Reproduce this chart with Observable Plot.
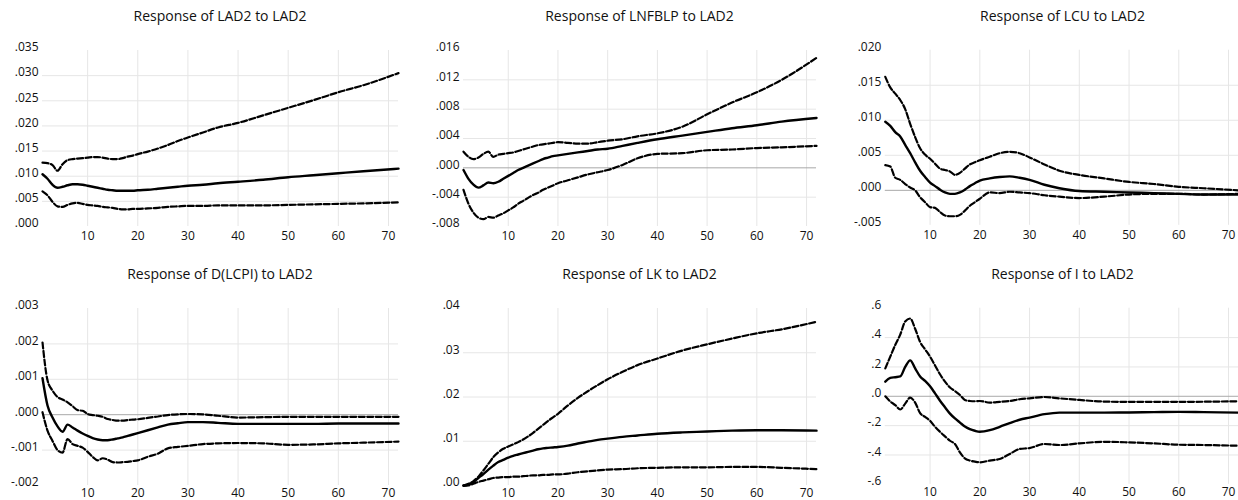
<!DOCTYPE html>
<html><head><meta charset="utf-8">
<script src="https://cdn.jsdelivr.net/npm/d3@7"></script>
<script src="https://cdn.jsdelivr.net/npm/@observablehq/plot@0.6"></script>
<style>
html,body{margin:0;padding:0;background:#fff;}
body{width:1238px;height:500px;overflow:hidden;position:relative;font-family:"Open Sans",sans-serif;}
.panel{position:absolute;}
.title{position:absolute;font-size:14px;color:#111;text-align:center;white-space:nowrap;line-height:20px;font-family:"Open Sans",sans-serif;}
</style></head><body>
<script>
// shared horizon grid (periods)
const periods = [1,2,3,4,5,6,7,8,9,10,11,12,13,14,15,16,17,18,19,20,22,24,26,28,30,33,36,40,45,50,55,60,65,72];
const xTicks = [10,20,30,40,50,60,70];

const titles = ["Response of LAD2 to LAD2","Response of LNFBLP to LAD2","Response of LCU to LAD2",
                "Response of D(LCPI) to LAD2","Response of LK to LAD2","Response of I to LAD2"];

// Panel 1: LAD2
const lad2_mid = [.0104,.0095,.0083,.0077,.0079,.0082,.0084,.0084,.0083,.0081,.0079,.0077,.0075,.0073,.0072,.0071,.0071,.0071,.0071,.0072,.0073,.0075,.0077,.0079,.0081,.0083,.0086,.0089,.0093,.0098,.0102,.0106,.0110,.0115];
const lad2_up  = [.0127,.0126,.0122,.0111,.0124,.0132,.0134,.0135,.0136,.0137,.0138,.0138,.0137,.0135,.0134,.0134,.0136,.0139,.0141,.0144,.0149,.0155,.0162,.0170,.0177,.0187,.0197,.0206,.0221,.0236,.0251,.0267,.0281,.0305];
const lad2_lo  = [.0070,.0062,.0049,.0040,.0039,.0043,.0046,.0047,.0045,.0043,.0042,.0041,.0039,.0038,.0037,.0035,.0034,.0034,.0035,.0035,.0036,.0037,.0039,.0040,.0041,.0041,.0042,.0042,.0042,.0043,.0044,.0045,.0046,.0048];
const lad2_ticks = [.000,.005,.010,.015,.020,.025,.030,.035];

// Panel 2: LNFBLP
const lnfblp_mid = [-.0003,-.0015,-.0023,-.0027,-.0024,-.0020,-.0021,-.0019,-.0015,-.0011,-.0007,-.0003,.0000,.0003,.0006,.0009,.0012,.0014,.0016,.0017,.0019,.0021,.0023,.0025,.0026,.0030,.0034,.0039,.0044,.0049,.0054,.0058,.0063,.0068];
const lnfblp_up  = [.0022,.0015,.0012,.0014,.0019,.0022,.0015,.0018,.0019,.0020,.0021,.0023,.0025,.0027,.0029,.0031,.0032,.0033,.0034,.0035,.0034,.0033,.0033,.0035,.0037,.0039,.0043,.0047,.0056,.0073,.0089,.0103,.0120,.0150];
const lnfblp_lo  = [-.0030,-.0049,-.0061,-.0068,-.0070,-.0067,-.0068,-.0065,-.0062,-.0058,-.0054,-.0049,-.0045,-.0041,-.0037,-.0034,-.0030,-.0027,-.0024,-.0021,-.0017,-.0013,-.0009,-.0006,-.0003,.0004,.0013,.0019,.0020,.0024,.0025,.0027,.0028,.0030];
const lnfblp_ticks = [-.008,-.004,.000,.004,.008,.012,.016];

// Panel 3: LCU
const lcu_mid = [.0098,.0092,.0083,.0077,.0065,.0053,.0040,.0028,.0019,.0011,.0006,.0001,-.0003,-.0005,-.0005,-.0003,.0001,.0006,.0010,.0014,.0017,.0019,.0020,.0018,.0015,.0008,.0003,-.0001,-.0002,-.0003,-.0004,-.0005,-.0006,-.0006];
const lcu_up  = [.0162,.0147,.0138,.0129,.0116,.0095,.0076,.0060,.0051,.0045,.0038,.0031,.0029,.0027,.0022,.0025,.0031,.0037,.0040,.0043,.0048,.0053,.0055,.0053,.0047,.0037,.0028,.0022,.0017,.0012,.0009,.0005,.0003,.0000];
const lcu_lo  = [.0036,.0034,.0018,.0015,.0009,.0004,.0000,-.0010,-.0017,-.0024,-.0025,-.0031,-.0036,-.0037,-.0037,-.0035,-.0029,-.0022,-.0017,-.0012,-.0003,-.0004,-.0002,-.0003,-.0004,-.0007,-.0009,-.0011,-.0009,-.0006,-.0005,-.0005,-.0006,-.0005];
const lcu_ticks = [-.005,.000,.005,.010,.015,.020];

// Panel 4: D(LCPI)
const dlcpi_mid = [.00103,.00026,-.00008,-.00033,-.00048,-.00028,-.00036,-.00045,-.00053,-.00060,-.00066,-.00070,-.00072,-.00072,-.00070,-.00067,-.00064,-.00060,-.00056,-.00052,-.00044,-.00036,-.00028,-.00024,-.00021,-.00021,-.00023,-.00026,-.00026,-.00026,-.00026,-.00025,-.00025,-.00025];
const dlcpi_up  = [.00204,.00097,.00068,.00050,.00043,.00035,.00024,.00013,.00011,.00002,-.00001,-.00003,-.00006,-.00012,-.00015,-.00017,-.00017,-.00015,-.00014,-.00013,-.00009,-.00005,-.00001,.00001,.00002,.00001,-.00003,-.00008,-.00007,-.00006,-.00006,-.00006,-.00006,-.00006];
const dlcpi_lo  = [.00007,-.00045,-.00074,-.00100,-.00107,-.00069,-.00083,-.00088,-.00093,-.00105,-.00119,-.00129,-.00123,-.00127,-.00134,-.00135,-.00134,-.00133,-.00131,-.00129,-.00119,-.00110,-.00095,-.00091,-.00088,-.00083,-.00081,-.00080,-.00081,-.00085,-.00084,-.00081,-.00079,-.00076];
const dlcpi_ticks = [-.002,-.001,.000,.001,.002,.003];

// Panel 5: LK
const lk_mid = [0,.0002,.0008,.0017,.0026,.0036,.0045,.0053,.0058,.0063,.0067,.0070,.0073,.0076,.0079,.0082,.0084,.0085,.0086,.0087,.0090,.0095,.0099,.0103,.0106,.0110,.0113,.0117,.0120,.0122,.0124,.0125,.0125,.0124];
const lk_up  = [0,.0004,.0010,.0020,.0034,.0049,.0064,.0075,.0083,.0088,.0093,.0098,.0104,.0111,.0119,.0128,.0137,.0146,.0154,.0162,.0181,.0198,.0213,.0227,.0240,.0257,.0272,.0287,.0305,.0319,.0332,.0344,.0353,.0370];
const lk_lo  = [-.0001,.0000,.0004,.0008,.0011,.0014,.0017,.0018,.0019,.0019,.0020,.0020,.0021,.0022,.0023,.0023,.0024,.0024,.0025,.0025,.0027,.0030,.0032,.0034,.0036,.0037,.0039,.0040,.0041,.0041,.0042,.0042,.0040,.0037];
const lk_ticks = [.00,.01,.02,.03,.04];

// Panel 6: I
const i_mid = [.100,.125,.130,.135,.200,.245,.190,.135,.105,.068,.020,-.030,-.075,-.118,-.151,-.179,-.206,-.224,-.235,-.242,-.231,-.208,-.183,-.160,-.145,-.122,-.111,-.111,-.111,-.110,-.108,-.106,-.108,-.111];
const i_up  = [.190,.270,.350,.420,.510,.530,.460,.370,.320,.270,.210,.150,.100,.060,.036,.009,-.025,-.032,-.034,-.032,-.043,-.038,-.032,-.020,-.014,-.005,-.014,-.025,-.036,-.038,-.038,-.038,-.037,-.034];
const i_lo  = [.000,-.035,-.060,-.090,-.050,-.009,-.043,-.115,-.140,-.167,-.208,-.242,-.273,-.303,-.325,-.382,-.423,-.438,-.445,-.450,-.438,-.427,-.393,-.359,-.353,-.325,-.332,-.321,-.310,-.314,-.321,-.330,-.332,-.337];
const i_ticks = [-.6,-.4,-.2,.0,.2,.4,.6];

const panels = [
  {title:titles[0], mid:lad2_mid, up:lad2_up, lo:lad2_lo, ticks:lad2_ticks, digits:3},
  {title:titles[1], mid:lnfblp_mid, up:lnfblp_up, lo:lnfblp_lo, ticks:lnfblp_ticks, digits:3},
  {title:titles[2], mid:lcu_mid, up:lcu_up, lo:lcu_lo, ticks:lcu_ticks, digits:3},
  {title:titles[3], mid:dlcpi_mid, up:dlcpi_up, lo:dlcpi_lo, ticks:dlcpi_ticks, digits:3},
  {title:titles[4], mid:lk_mid, up:lk_up, lo:lk_lo, ticks:lk_ticks, digits:2},
  {title:titles[5], mid:i_mid, up:i_up, lo:i_lo, ticks:i_ticks, digits:1}
];

// layout
const cols = [{left:0,width:410,mr:12},{left:421,width:410,mr:15},{left:843,width:397,mr:0}];
const rows = [{top:0,height:250,mb:24,pad:5},{top:258,height:242,mb:15,pad:3}];
const ML = 42, MT = 50;

function fmt(d){ return (v)=>{ let s = Math.abs(v) < 1e-12 ? (0).toFixed(d) : v.toFixed(d); return s.replace(/^(-?)0\./,"$1."); }; }

panels.forEach((p,i)=>{
  const c = cols[i%3], r = rows[Math.floor(i/3)];
  const data = periods.map((t,k)=>({t, mid:p.mid[k], up:p.up[k], lo:p.lo[k]}));
  const lo = p.ticks[0], hi = p.ticks[p.ticks.length-1];
  const inner = p.ticks.slice(1,-1);
  const marks = [
    Plot.gridX(xTicks, {stroke:"#e6e6e6", strokeOpacity:1, strokeWidth:1}),
    Plot.gridY(inner.filter(v=>Math.abs(v)>1e-12), {stroke:"#e6e6e6", strokeOpacity:1, strokeWidth:1}),
  ];
  if (lo < 0 && hi > 0) marks.push(Plot.ruleY([0], {stroke:"#a8a8a8", strokeWidth:1}));
  marks.push(
    Plot.axisX({ticks:xTicks, tickSize:0, tickPadding:r.pad, tickFormat:d=>String(d), fontSize:12}),
    Plot.axisY({ticks:p.ticks, tickSize:0, tickPadding:4, dy:-3, tickFormat:fmt(p.digits), fontSize:12}),
    Plot.line(data, {x:"t", y:"up", stroke:"#000", strokeWidth:2.2, strokeDasharray:"6,2.5", curve:"monotone-x"}),
    Plot.line(data, {x:"t", y:"lo", stroke:"#000", strokeWidth:2.2, strokeDasharray:"6,2.5", curve:"monotone-x"}),
    Plot.line(data, {x:"t", y:"mid", stroke:"#000", strokeWidth:2.4, curve:"monotone-x"})
  );
  const chart = Plot.plot({
    width:c.width, height:r.height,
    marginLeft:ML, marginRight:c.mr, marginTop:MT, marginBottom:r.mb,
    x:{domain:[1,72], label:null},
    y:{domain:[lo,hi], label:null},
    style:{fontFamily:"Open Sans, sans-serif", fontSize:"12px", color:"#111", background:"transparent", overflow:"visible"},
    marks
  });
  const wrap = document.createElement("div");
  wrap.className = "panel";
  wrap.style.left = c.left+"px"; wrap.style.top = r.top+"px";
  wrap.appendChild(chart);
  document.body.appendChild(wrap);
  const t = document.createElement("div");
  t.className = "title";
  t.textContent = p.title;
  const plotLeft = c.left+ML, plotRight = c.left+c.width-c.mr;
  t.style.left = plotLeft+"px"; t.style.width = (plotRight-plotLeft)+"px";
  t.style.top = (r.top+6)+"px";
  document.body.appendChild(t);
});
</script>
</body></html>
